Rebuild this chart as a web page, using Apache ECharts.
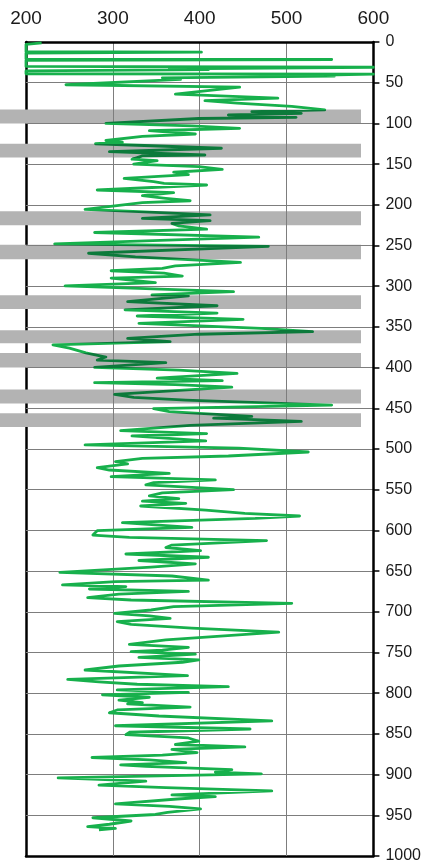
<!DOCTYPE html>
<html>
<head>
<meta charset="utf-8">
<script src="https://cdn.jsdelivr.net/npm/echarts@6/dist/echarts.min.js"></script>
<style>
  html, body { margin: 0; padding: 0; background: #ffffff; }
  #chart { width: 424px; height: 864px; }
</style>
</head>
<body>
<div id="chart"></div>
<script>
// Log reading against depth (depth increases downward).
const depth = [
  1, 3, 12, 12.5, 13.5, 21, 21.5, 22.5, 30, 31, 33, 34, 35.5, 39, 39.5, 41, 42, 44, 46, 52.5,
  55.5, 64, 69, 72, 75, 79, 83.5, 85.6, 87.6, 89.7, 92.5, 94, 100, 103, 106, 109, 113, 116, 121, 123,
  125, 130.5, 134.7, 138.8, 140, 144, 145.8, 150, 153, 156.4, 160, 163, 167.5, 171.6, 173.6, 175.7, 181.8, 185, 188.8, 192,
  195, 197.4, 205.6, 208.4, 212.5, 216.6, 219.5, 222.8, 226, 230, 234, 239.8, 248, 251, 259.5, 264, 270.7, 275, 278, 281,
  284, 287.5, 290, 295.6, 299.7, 306.7, 310.7, 312, 319, 324, 329, 333, 336.6, 340.7, 345.6, 351.8, 355.9, 359, 364, 368,
  372, 376, 382, 387, 390.7, 393.9, 399.7, 403, 407, 413, 416, 418.5, 421, 424, 433, 436.5, 440, 446, 450.5, 454,
  460, 462, 466, 471, 477.5, 481, 484, 490, 495, 499, 503.7, 508.6, 511.5, 515.5, 518.4, 523, 525.8, 530, 534, 538,
  541.4, 544, 550, 554, 557.7, 561, 564, 566.7, 570, 575, 579, 582.3, 585.3, 590.5, 596.2, 600.3, 605.7, 608.5, 612.5, 618,
  621, 624.8, 629, 633, 637, 641, 645, 651.5, 656, 661, 663, 667, 669, 672, 675, 678.3, 682.6, 685.5, 689.6, 693.7,
  697.8, 702, 705, 708, 712, 715.4, 720, 725, 731.5, 734.6, 740, 743.6, 747, 749, 752, 756, 759, 762, 766.6, 771.5,
  778.5, 783, 786, 789, 792, 796, 799, 802, 805, 808.5, 811.5, 813, 817, 820.6, 824, 828, 834, 840, 844, 848,
  851, 855, 859, 863, 866, 869, 873, 876, 879, 882, 885.4, 888, 890, 894, 897, 899, 904, 908, 913, 916,
  920, 925, 927, 930, 936, 939, 942, 946.4, 949, 953, 957, 961, 964, 966, 968
];
const reading = [
  218, 200, 200, 402, 200, 200, 552, 200, 200, 600, 365, 410, 200, 200, 600, 530, 555, 357, 378, 246,
  446, 372, 490, 406, 443, 506, 544, 460, 517, 433, 511, 399, 292, 391, 446, 342, 395, 334, 292, 311,
  280, 425, 296, 406, 334, 322, 351, 324, 399, 426, 370, 387, 313, 347, 359, 408, 282, 370, 334, 361,
  389, 334, 268, 330, 412, 334, 412, 368, 376, 408, 279, 468, 233, 479, 272, 326, 447, 372, 357, 298,
  359, 380, 298, 349, 245, 439, 345, 387, 317, 420, 314, 420, 328, 450, 330, 471, 530, 399, 317, 366,
  231, 250, 269, 292, 282, 361, 279, 376, 443, 351, 426, 279, 372, 437, 302, 324, 384, 552, 347, 365,
  460, 416, 517, 389, 309, 408, 322, 407, 268, 445, 525, 433, 334, 303, 317, 282, 296, 365, 298, 418,
  347, 338, 439, 357, 342, 376, 334, 384, 332, 407, 452, 515, 464, 311, 391, 282, 277, 319, 477, 368,
  361, 401, 315, 410, 330, 395, 344, 239, 368, 410, 303, 242, 315, 273, 387, 307, 271, 321, 506, 370,
  344, 302, 342, 366, 305, 321, 391, 491, 403, 361, 319, 387, 357, 321, 395, 330, 399, 380, 307, 268,
  386, 248, 284, 328, 433, 305, 387, 288, 342, 307, 334, 317, 389, 305, 296, 353, 483, 303, 458, 319,
  315, 387, 399, 372, 452, 368, 397, 357, 276, 342, 384, 309, 338, 437, 418, 471, 237, 338, 284, 361,
  483, 368, 418, 374, 303, 365, 401, 363, 349, 277, 321, 296, 271, 303, 284
];

// Highlighted depth intervals (top, bottom).
const bandTop    = [83, 125, 208, 249, 311, 354, 382, 427, 456];
const bandBottom = [100, 142, 225, 267, 328, 370, 400, 444, 473];

// Axis tick labels.
const readingTicks = [200, 300, 400, 500, 600];
const depthTicks = [0, 50, 100, 150, 200, 250, 300, 350, 400, 450, 500,
                    550, 600, 650, 700, 750, 800, 850, 900, 950, 1000];

const LIGHT_GREEN = '#17b04c';
const DARK_GREEN = '#0c7a3b';
const FONT = '"Liberation Sans", Arial, sans-serif';

const linePoints = depth.map((d, i) => [reading[i], d]);
const bandAreas = bandTop.map((t, i) => [{ xAxis: 0, yAxis: t }, { xAxis: 1, yAxis: bandBottom[i] }]);

const chart = echarts.init(document.getElementById('chart'), null, { renderer: 'canvas' });

chart.setOption({
  animation: false,
  backgroundColor: '#ffffff',
  grid: [
    { left: 26, top: 42, width: 350, height: 814 },
    { left: 0, top: 42, width: 361, height: 814 }
  ],
  xAxis: [
    {
      gridIndex: 0, type: 'value', position: 'top', z: 3,
      min: readingTicks[0], max: readingTicks[readingTicks.length - 1], interval: 100,
      axisLine: { show: true, onZero: false, lineStyle: { color: '#000', width: 2.5 } },
      axisTick: { show: false },
      axisLabel: { fontSize: 19, color: '#1a1a1a', fontFamily: FONT, margin: 14,
                   formatter: v => String(v) },
      splitLine: { show: true, showMinLine: false, showMaxLine: false, lineStyle: { color: '#7d7d7d', width: 1 } }
    },
    {
      gridIndex: 1, type: 'value', min: 0, max: 1, show: false
    },
    {
      gridIndex: 0, type: 'value', position: 'bottom', z: 0,
      min: 200, max: 600,
      axisLine: { show: true, onZero: false, lineStyle: { color: '#000', width: 2.5 } },
      axisTick: { show: false }, axisLabel: { show: false }, splitLine: { show: false }
    }
  ],
  yAxis: [
    {
      gridIndex: 0, type: 'value', position: 'right', inverse: true, z: 3,
      min: depthTicks[0], max: depthTicks[depthTicks.length - 1], interval: 50,
      axisLine: { show: true, onZero: false, lineStyle: { color: '#000', width: 2.5 } },
      axisTick: { show: true, inside: false, length: 6, lineStyle: { color: '#000', width: 1.5 } },
      axisLabel: { fontSize: 16, color: '#1a1a1a', fontFamily: FONT, margin: 12,
                   formatter: v => String(v) },
      splitLine: { show: true, showMinLine: false, showMaxLine: false, lineStyle: { color: '#7d7d7d', width: 1 } }
    },
    {
      gridIndex: 1, type: 'value', inverse: true, min: 0, max: 1000, show: false
    },
    {
      gridIndex: 0, type: 'value', position: 'left', inverse: true, z: 0,
      min: 0, max: 1000,
      axisLine: { show: true, onZero: false, lineStyle: { color: '#000', width: 2.5 } },
      axisTick: { show: false }, axisLabel: { show: false }, splitLine: { show: false }
    }
  ],
  visualMap: {
    show: false,
    type: 'piecewise',
    seriesIndex: 1,
    dimension: 1,
    pieces: bandTop.map((t, i) => ({ gte: t, lte: bandBottom[i], color: DARK_GREEN })),
    outOfRange: { color: LIGHT_GREEN }
  },
  series: [
    {
      name: 'bands',
      type: 'line',
      xAxisIndex: 1, yAxisIndex: 1,
      data: [],
      z: 1,
      silent: true,
      markArea: {
        silent: true,
        itemStyle: { color: '#b3b3b3' },
        data: bandAreas
      }
    },
    {
      name: 'reading',
      type: 'line',
      xAxisIndex: 0, yAxisIndex: 0,
      data: linePoints,
      z: 5,
      showSymbol: false,
      smooth: false,
      clip: true,
      lineStyle: { width: 2.8, join: 'round' }
    }
  ]
});
</script>
</body>
</html>
